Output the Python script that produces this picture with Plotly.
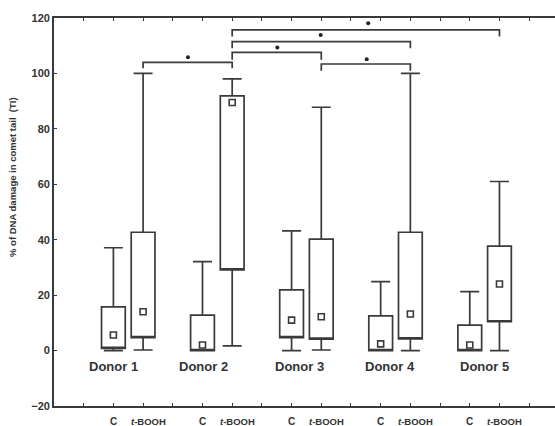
import plotly.graph_objects as go

# ---- data ----
donors = ["Donor 1", "Donor 2", "Donor 3", "Donor 4", "Donor 5"]
treatments = ["C", "<i>t</i>-BOOH"]
positions = [2, 3, 5, 6, 8, 9, 11, 12, 14, 15]
whisker_low = [0.0, 0.2, 0.0, 1.7, 0.0, 0.2, 0.0, 0.0, 0.0, 0.0]
box_low = [0.8, 4.7, 0.0, 29.1, 4.7, 4.1, 0.0, 4.2, 0.0, 10.4]
centre = [5.6, 14.0, 2.0, 89.5, 11.0, 12.2, 2.4, 13.2, 2.0, 24.0]
box_high = [15.8, 42.7, 12.8, 91.9, 21.9, 40.2, 12.5, 42.7, 9.2, 37.7]
whisker_high = [37.1, 100.0, 32.1, 98.0, 43.2, 87.8, 24.9, 100.0, 21.3, 61.0]

donor_label_x = [1.99, 5.05, 8.25, 11.31, 14.48]
donor_label_y = -5.6

# significance brackets
br_left = [3, 6, 6, 6, 9]
br_right = [6, 9, 12, 15, 12]
br_level = [104.0, 107.6, 111.5, 115.7, 103.4]
br_leg = [101.9, 104.9, 109.1, 113.3, 101.0]
star_x = [4.51, 7.52, 8.98, 10.58, 10.53]
star_y = [105.8, 109.4, 113.9, 118.1, 105.1]

y_ticks = [-20, 0, 20, 40, 60, 80, 100, 120]
x_ticks = list(range(1, 17))

LINE = "#3a3a3a"
TXT = "#333333"
FONT = "Liberation Sans"

fig = go.Figure()
fig.add_trace(go.Box(
    x=positions, q1=box_low, median=box_low, q3=box_high,
    lowerfence=whisker_low, upperfence=whisker_high,
    width=0.8, whiskerwidth=0.8,
    fillcolor="white", line=dict(color=LINE, width=1.7),
    boxpoints=False, showlegend=False, hoverinfo="skip",
))
fig.add_trace(go.Scatter(
    x=positions, y=centre, mode="markers",
    marker=dict(symbol="square-open", size=6, color=LINE, line=dict(width=1.6)),
    showlegend=False,
))

for l, r, lev, leg in zip(br_left, br_right, br_level, br_leg):
    fig.add_trace(go.Scatter(
        x=[l, l, r, r], y=[leg, lev, lev, leg], mode="lines",
        line=dict(color=LINE, width=1.7), showlegend=False, hoverinfo="skip",
    ))
fig.add_trace(go.Scatter(
    x=star_x, y=star_y, mode="markers",
    marker=dict(symbol="circle", size=4, color="#222"), showlegend=False,
))

for d, dx in zip(donors, donor_label_x):
    fig.add_annotation(x=dx, y=donor_label_y, text=d, showarrow=False,
                       font=dict(family=FONT, size=13, color=TXT, weight="bold"))

for i, p in enumerate(positions):
    t = treatments[i % 2]
    fig.add_annotation(x=p + (0.0 if i % 2 == 0 else 0.17), xref="x", y=0, yref="paper",
                       yanchor="middle", yshift=-15, text=t, showarrow=False,
                       font=dict(family=FONT, size=10 if i % 2 == 0 else 9.5,
                                 color=TXT, weight="bold"))

fig.add_annotation(x=(12 - 54) / 501, xref="paper", xanchor="center",
                   y=(406 - 177) / 388, yref="paper",
                   text="% of DNA damage in comet tail  (TI)", textangle=-90,
                   showarrow=False,
                   font=dict(family=FONT, size=9.5, color=TXT, weight="bold"))

fig.update_layout(
    width=555, height=426,
    margin=dict(l=54, r=0, t=18, b=20),
    plot_bgcolor="white", paper_bgcolor="white",
    xaxis=dict(range=[0, 16.87], tickvals=x_ticks, showticklabels=False,
               ticks="inside", ticklen=3, tickcolor=LINE, showline=True,
               linecolor=LINE, linewidth=1.7, mirror="ticks",
               showgrid=False, zeroline=False),
    yaxis=dict(range=[-20, 120], tickvals=y_ticks, ticks="inside", ticklen=3,
               tickcolor=LINE, showline=True, linecolor=LINE, linewidth=1.7,
               showgrid=False, zeroline=False, mirror=False,
               tickfont=dict(family=FONT, size=11, color=TXT, weight="bold")),
    font=dict(family=FONT),
)
fig.write_html("out.html")
